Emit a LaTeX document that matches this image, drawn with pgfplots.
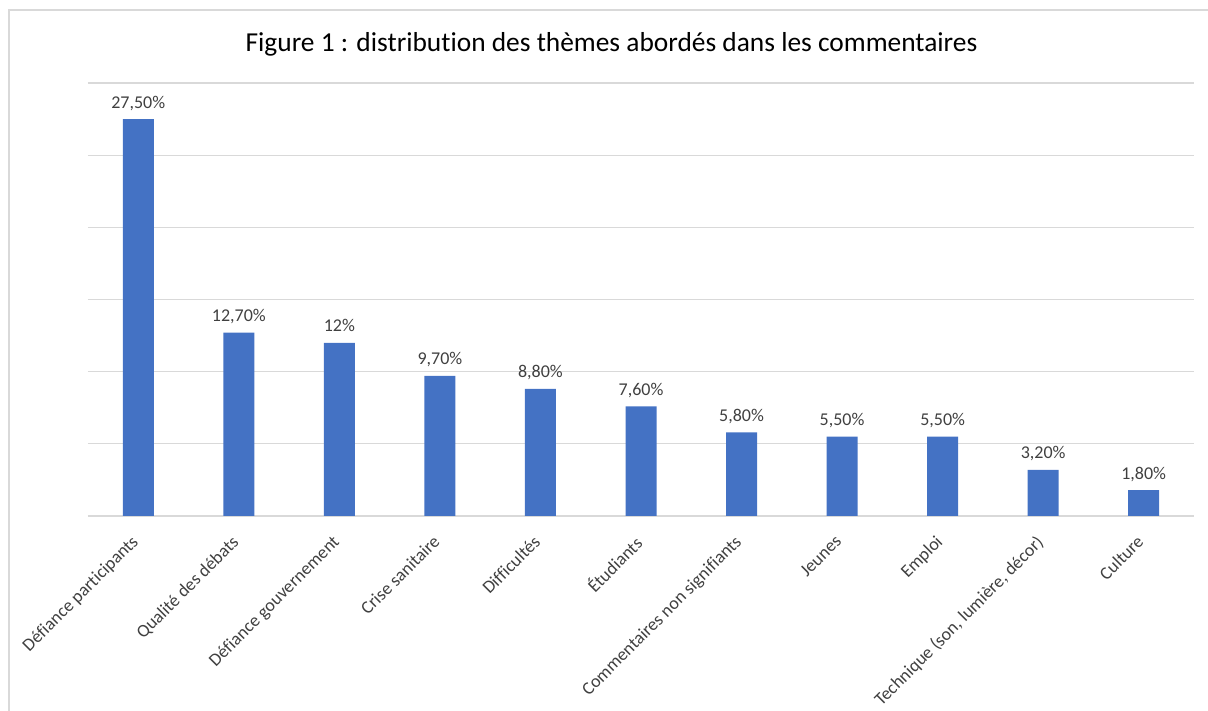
\documentclass[border=0pt]{standalone}
\usepackage{pgfplots}
\pgfplotsset{compat=1.18}
\usepackage{fontspec}
\setmainfont{Carlito}[Ligatures=NoCommon]
\definecolor{barblue}{HTML}{4472C4}
\definecolor{gridgray}{HTML}{D9D9D9}
\definecolor{labgray}{HTML}{404040}
\definecolor{tickgray}{HTML}{404040}
\pgfplotstableread{
x y lab
0 27.5 {27,50}
1 12.7 {12,70}
2 12.0 {12}
3 9.7 {9,70}
4 8.8 {8,80}
5 7.6 {7,60}
6 5.8 {5,80}
7 5.5 {5,50}
8 5.5 {5,50}
9 3.2 {3,20}
10 1.8 {1,80}
}\datatable
\begin{document}
\begin{tikzpicture}[x=1pt,y=1pt]
\useasboundingbox (0,0) rectangle (1208,711);
\draw[gridgray, line width=1.2pt] (9,0) -- (9,701) -- (1208,701);
\node[anchor=base, font=\fontsize{27.4}{31}\selectfont, text=black] at (611.5,659) {Figure 1 : distribution des thèmes abordés dans les commentaires};
\begin{axis}[
  at={(88pt,195pt)}, anchor=south west,
  scale only axis, width=1106pt, height=433pt,
  xmin=-0.5, xmax=10.5, ymin=0, ymax=30,
  ytick={0,5,...,30}, yticklabels={},
  ymajorgrids, grid style={gridgray, line width=1.2pt},
  axis line style={draw=none},
  major tick length=0pt,
  xtick={0,...,10},
  xticklabels={Défiance participants, Qualité des débats, Défiance gouvernement, Crise sanitaire, Difficultés, Étudiants, Commentaires non signifiants, Jeunes, Emploi, {Technique (son, lumière, décor)}, Culture},
  xticklabel style={font=\fontsize{18}{21}\selectfont, text=tickgray, inner sep=0pt, xshift=-8pt, yshift=-18pt, rotate=45, anchor=north east},
  ybar, bar width=31pt,
  clip=false,
  nodes near coords={\pgfplotspointmeta\%},
  point meta=explicit symbolic,
  every node near coord/.append style={font=\fontsize{18}{21}\selectfont, text=labgray, anchor=base, inner sep=0pt, yshift=11pt},
]
\addplot[fill=barblue, draw=none] table[x=x, y=y, meta=lab] {\datatable};
\end{axis}
\end{tikzpicture}
\end{document}
